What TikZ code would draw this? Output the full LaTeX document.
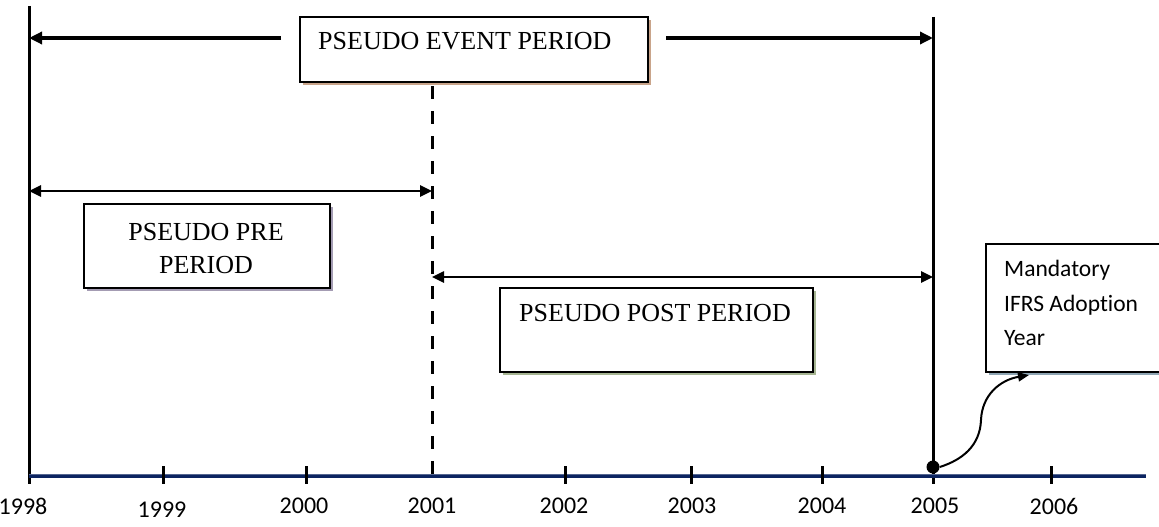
\documentclass[tikz,border=0pt]{standalone}
\usepackage{fontspec}
\setmainfont{Liberation Serif}
\newfontfamily\carlito[Ligatures=NoCommon]{Carlito}
\usetikzlibrary{arrows.meta,shadows}
\definecolor{axisblue}{RGB}{12,36,97}
\definecolor{shbrown}{RGB}{201,164,138}
\definecolor{shpurple}{RGB}{164,156,179}
\definecolor{shgreen}{RGB}{166,181,146}
\definecolor{shblue}{RGB}{142,165,179}
\tikzset{
  boxshape/.style={draw=black, line width=2pt, fill=white, rectangle, inner sep=0pt, anchor=north west},
  sh/.style={drop shadow={shadow xshift=3pt, shadow yshift=-3pt, fill=#1, opacity=1}},
  boxtext/.style={inner sep=0pt, font=\fontsize{26}{33}\selectfont},
  yeartext/.style={inner sep=0pt, font=\carlito\fontsize{24}{28}\selectfont},
  mandtext/.style={inner sep=0pt, anchor=base west, font=\carlito\fontsize{23.5}{28}\selectfont},
  vline/.style={line width=3pt, black},
  tickline/.style={line width=3pt, black},
  toparrow/.style={line width=3.3pt, -{Triangle[length=13pt,width=12pt]}},
  periodarrow/.style={line width=2.5pt, {Triangle[length=12pt,width=11pt]}-{Triangle[length=12pt,width=11pt]}},
  curvearrow/.style={line width=2pt, -{Triangle[length=11pt,width=9pt]}},
}
\begin{document}
\begin{tikzpicture}[x=1pt,y=-1pt]
\useasboundingbox (0,0) rectangle (1159,527);
\clip (0,0) rectangle (1159,527);

% boxes
\node[boxshape, sh=shbrown, minimum width=348pt, minimum height=65pt] (event) at (299,16) {};
\node[boxshape, sh=shpurple, minimum width=246pt, minimum height=84pt] (pre) at (83,203) {};
\node[boxshape, sh=shgreen, minimum width=313pt, minimum height=84pt] (post) at (499,286.5) {};
\node[boxshape, sh=shblue, minimum width=200pt, minimum height=128pt] (mand) at (985,243) {};

% box texts
\node[boxtext, anchor=base west] (eventtxt) at (318,50) {PSEUDO EVENT PERIOD};
\node[boxtext, anchor=base] (pretxt1) at (206,240.5) {PSEUDO PRE};
\node[boxtext, anchor=base] (pretxt2) at (206,273.5) {PERIOD};
\node[boxtext, anchor=base west] (posttxt) at (519,321.5) {PSEUDO POST PERIOD};
\node[mandtext] (mand1) at (1004,276) {Mandatory};
\node[mandtext] (mand2) at (1004,311) {IFRS Adoption};
\node[mandtext] (mand3) at (1004,345) {Year};

% vertical lines
\coordinate (t1998) at (29,6);
\coordinate (b1998) at (29,484);
\coordinate (t2005) at (933,17);
\coordinate (b2005) at (933,484);
\coordinate (t2001) at (432,86);
\coordinate (b2001) at (432,484);
\draw[vline] (t1998) -- (b1998);
\draw[vline] (t2005) -- (b2005);
\draw[vline, dash pattern=on 13pt off 12pt] (t2001) -- (b2001);

% axis
\coordinate (axL) at (29,476);
\coordinate (axR) at (1146,476);
\draw[axisblue!70!white, line width=4.5pt] (axL) -- (axR);
\draw[axisblue, line width=3pt] (axL) -- (axR);

% ticks
\foreach \x/\n in {163/a,306/b,565/c,691/d,822/e,1051/f}{
  \coordinate (tk\n u) at (\x,466);
  \coordinate (tk\n d) at (\x,484);
  \draw[tickline] (tk\n u) -- (tk\n d);
}

% top arrows
\coordinate (tlA) at (281,38);
\coordinate (tlB) at (29,38);
\coordinate (trA) at (666,38);
\coordinate (trB) at (933,38);
\draw[toparrow] (tlA) -- (tlB);
\draw[toparrow] (trA) -- (trB);

% period arrows
\coordinate (preL) at (29,191);
\coordinate (preR) at (432,191);
\coordinate (postL) at (432,277);
\coordinate (postR) at (933,277);
\draw[periodarrow] (preL) -- (preR);
\draw[periodarrow] (postL) -- (postR);

% dot and curve
\node[circle, fill=black, inner sep=0pt, minimum size=13pt] (dot) at (933,467) {};
\coordinate (arrend) at (1029,375);
\draw[curvearrow] (dot.east) .. controls (962,460) and (980,446) .. (981,420)
  .. controls (982,395) and (1000,380) .. (arrend);

% year labels
\node[yeartext] (y1998) at (23,506) {1998};
\node[yeartext] (y1999) at (162,510) {1999};
\node[yeartext] (y2000) at (304,506) {2000};
\node[yeartext] (y2001) at (432,506) {2001};
\node[yeartext] (y2002) at (564,506) {2002};
\node[yeartext] (y2003) at (692,506) {2003};
\node[yeartext] (y2004) at (822,506) {2004};
\node[yeartext] (y2005) at (935,506) {2005};
\node[yeartext] (y2006) at (1054,506) {2006};
\end{tikzpicture}
\end{document}
